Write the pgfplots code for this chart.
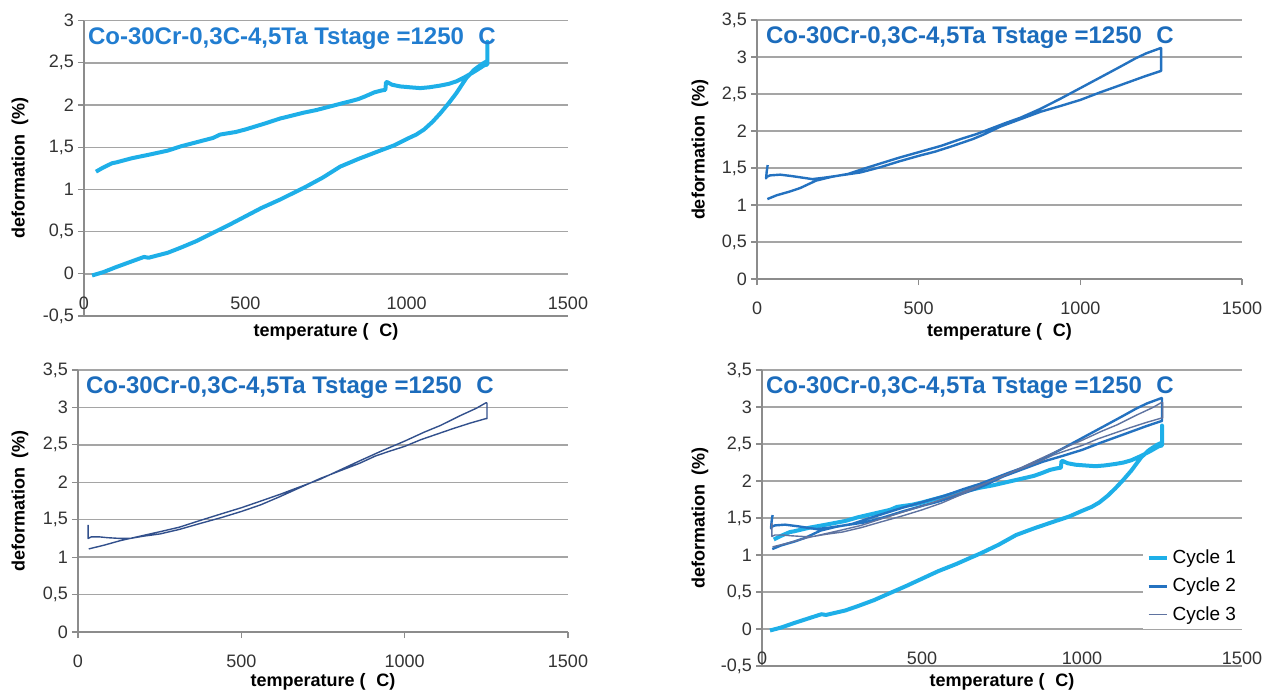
\documentclass[border=0pt]{standalone}
\usepackage{fontspec}
\setmainfont{Liberation Sans}
\usepackage{pgfplots}
\pgfplotsset{compat=1.18}
\usepackage{pgfplotstable}

\definecolor{cA}{RGB}{30,175,232}
\definecolor{cB}{RGB}{36,114,192}
\definecolor{cC}{RGB}{50,80,140}
\definecolor{cCl}{RGB}{95,115,160}
\definecolor{tA}{RGB}{33,125,208}
\definecolor{tB}{RGB}{28,108,188}
\definecolor{gridc}{RGB}{165,165,165}
\definecolor{axisc}{RGB}{140,140,140}

% Cycle 1: heating then cooling
\pgfplotstableread{
T d
25 -0.02
60 0.02
100 0.08
150 0.15
186 0.20
200 0.19
230 0.22
260 0.25
300 0.31
350 0.39
397 0.48
450 0.58
500 0.68
550 0.78
608 0.88
650 0.96
682 1.02
740 1.14
794 1.27
850 1.36
918 1.46
960 1.52
1002 1.60
1030 1.65
1054 1.71
1080 1.80
1104 1.90
1130 2.02
1154 2.14
1185 2.32
1210 2.42
1235 2.49
1250 2.52
1250 2.75
1250 2.48
1240 2.47
1220 2.42
1203 2.38
1180 2.33
1154 2.28
1130 2.25
1104 2.23
1070 2.21
1042 2.20
1010 2.21
980 2.22
955 2.24
940 2.27
936 2.27
934 2.18
920 2.17
900 2.15
870 2.10
850 2.07
831 2.05
800 2.02
760 1.98
720 1.94
682 1.91
640 1.87
608 1.84
560 1.78
500 1.71
470 1.68
422 1.65
400 1.61
360 1.57
300 1.51
260 1.46
200 1.41
149 1.37
100 1.32
87 1.31
60 1.26
37 1.21
}\cycleA

% Cycle 2
\pgfplotstableread{
T d
32 1.08
60 1.13
100 1.18
134 1.23
183 1.33
230 1.38
282 1.42
330 1.49
381 1.56
440 1.64
505 1.72
570 1.80
629 1.89
680 1.96
716 2.02
770 2.11
815 2.18
877 2.30
940 2.44
1000 2.58
1060 2.72
1124 2.87
1170 2.98
1204 3.05
1248 3.12
1250 3.12
1250 2.81
1248 2.81
1200 2.74
1124 2.62
1060 2.52
1000 2.42
940 2.34
877 2.26
815 2.16
753 2.06
700 1.95
667 1.89
600 1.79
550 1.72
505 1.67
440 1.59
381 1.51
320 1.44
257 1.40
210 1.37
171 1.35
140 1.37
109 1.39
72 1.41
40 1.40
30 1.38
28 1.36
30 1.45
33 1.54
}\cycleB

% Cycle 3
\pgfplotstableread{
T d
33 1.11
80 1.16
129 1.22
190 1.28
251 1.34
310 1.40
374 1.49
440 1.58
500 1.66
560 1.75
619 1.84
680 1.94
741 2.04
800 2.16
864 2.29
930 2.42
1000 2.55
1060 2.67
1110 2.76
1170 2.89
1220 2.99
1248 3.06
1252 3.06
1252 2.85
1248 2.85
1200 2.79
1150 2.72
1110 2.66
1050 2.57
1000 2.48
950 2.41
910 2.35
860 2.25
800 2.15
741 2.05
680 1.93
619 1.81
560 1.70
500 1.61
440 1.53
374 1.45
310 1.37
251 1.31
200 1.28
160 1.25
129 1.25
90 1.26
67 1.27
40 1.27
31 1.25
31 1.43
}\cycleC

\pgfplotsset{
  panel/.style={
    scale only axis, anchor=south west,
    xmin=0, xmax=1500,
    xtick={0,500,1000,1500},
    xticklabels={0,500,1000,1500},
    axis lines=left,
    ymajorgrids,
    major grid style={draw=gridc, line width=0.7pt},
    axis line style={draw=axisc, line width=0.7pt, -},
    tick style={draw=axisc, line width=0.6pt},
    tick align=outside, major tick length=3pt,
    ticklabel style={font=\fontsize{9}{10}\selectfont, text=black!80},
    yticklabel style={xshift=1.5pt},
    xlabel={temperature (\hspace{0.6em}C)},
    ylabel={deformation\hspace{0.5em}(\%)},
    title={Co-30Cr-0,3C-4,5Ta Tstage =1250\hspace{0.6em}C},
  },
  lab/.style n args={4}{
    every axis x label/.style={at={([yshift=#1]axis description cs:0.5,0)}, anchor=center,
      font=\bfseries\fontsize{9}{10}\selectfont, text=black},
    every axis y label/.style={at={([xshift=#2]axis description cs:0,0.5)}, anchor=center, rotate=90,
      font=\bfseries\fontsize{9}{10}\selectfont, text=black},
    every axis title/.style={at={([xshift=#3,yshift=#4]axis description cs:0,1)}, anchor=base west,
      font=\bfseries\fontsize{12}{13}\selectfont},
  },
}

\begin{document}
\begin{tikzpicture}[x=1pt,y=1pt]
\useasboundingbox (0,0) rectangle (632,346);

% Panel 1
\begin{axis}[panel,
  at={(42pt,188pt)}, width=242pt, height=147.7pt,
  ymin=-0.5, ymax=3,
  ytick={-0.5,0,0.5,1,1.5,2,2.5,3},
  yticklabels={{-0,5},0,{0,5},1,{1,5},2,{2,5},3},
  xticklabel style={yshift=16pt},
  xtick style={draw=none},
  lab={-8pt}{-32pt}{-1.5pt}{-12pt},
  title style={text=tA},
]
\addplot[cA, line width=2pt, line join=round] table {\cycleA};
\end{axis}

% Panel 2
\begin{axis}[panel,
  at={(378.5pt,206.5pt)}, width=242.5pt, height=129.5pt,
  ymin=0, ymax=3.5,
  ytick={0,0.5,1,1.5,2,2.5,3,3.5},
  yticklabels={0,{0,5},1,{1,5},2,{2,5},3,{3,5}},
  xticklabel style={yshift=-5pt},
  lab={-26.5pt}{-28.5pt}{1pt}{-11.5pt},
  title style={text=tB},
]
\addplot[cB, line width=1.2pt, line join=round] table {\cycleB};
\end{axis}

% Panel 3
\begin{axis}[panel,
  at={(39pt,30pt)}, width=245pt, height=131pt,
  ymin=0, ymax=3.5,
  ytick={0,0.5,1,1.5,2,2.5,3,3.5},
  yticklabels={0,{0,5},1,{1,5},2,{2,5},3,{3,5}},
  xticklabel style={yshift=-5pt},
  lab={-25pt}{-29pt}{0.5pt}{-11.5pt},
  title style={text=tB},
]
\addplot[cC, line width=0.7pt, line join=round] table {\cycleC};
\end{axis}

% Panel 4
\begin{axis}[panel,
  at={(381pt,13pt)}, width=240pt, height=148pt,
  ymin=-0.5, ymax=3.5,
  ytick={-0.5,0,0.5,1,1.5,2,2.5,3,3.5},
  yticklabels={{-0,5},0,{0,5},1,{1,5},2,{2,5},3,{3,5}},
  xticklabel style={yshift=13.5pt},
  xtick style={draw=none},
  lab={-8pt}{-31pt}{-1.5pt}{-11.5pt},
  title style={text=tB},
  legend style={at={(rel axis cs:1.005,0.415)}, anchor=north east, draw=none, fill=white,
    font=\fontsize{9.5}{11}\selectfont, row sep=1.8pt, inner xsep=2pt, inner ysep=1pt},
  legend cell align=left,
  legend image code/.code={\draw[#1] (0pt,0pt) -- (9pt,0pt);},
]
\addplot[cA, line width=2pt, line join=round] table {\cycleA};
\addlegendentry{Cycle 1}
\addplot[cB, line width=1.2pt, line join=round] table {\cycleB};
\addlegendentry{Cycle 2}
\addplot[cCl, line width=0.7pt, line join=round] table {\cycleC};
\addlegendentry{Cycle 3}
\end{axis}
\end{tikzpicture}
\end{document}
